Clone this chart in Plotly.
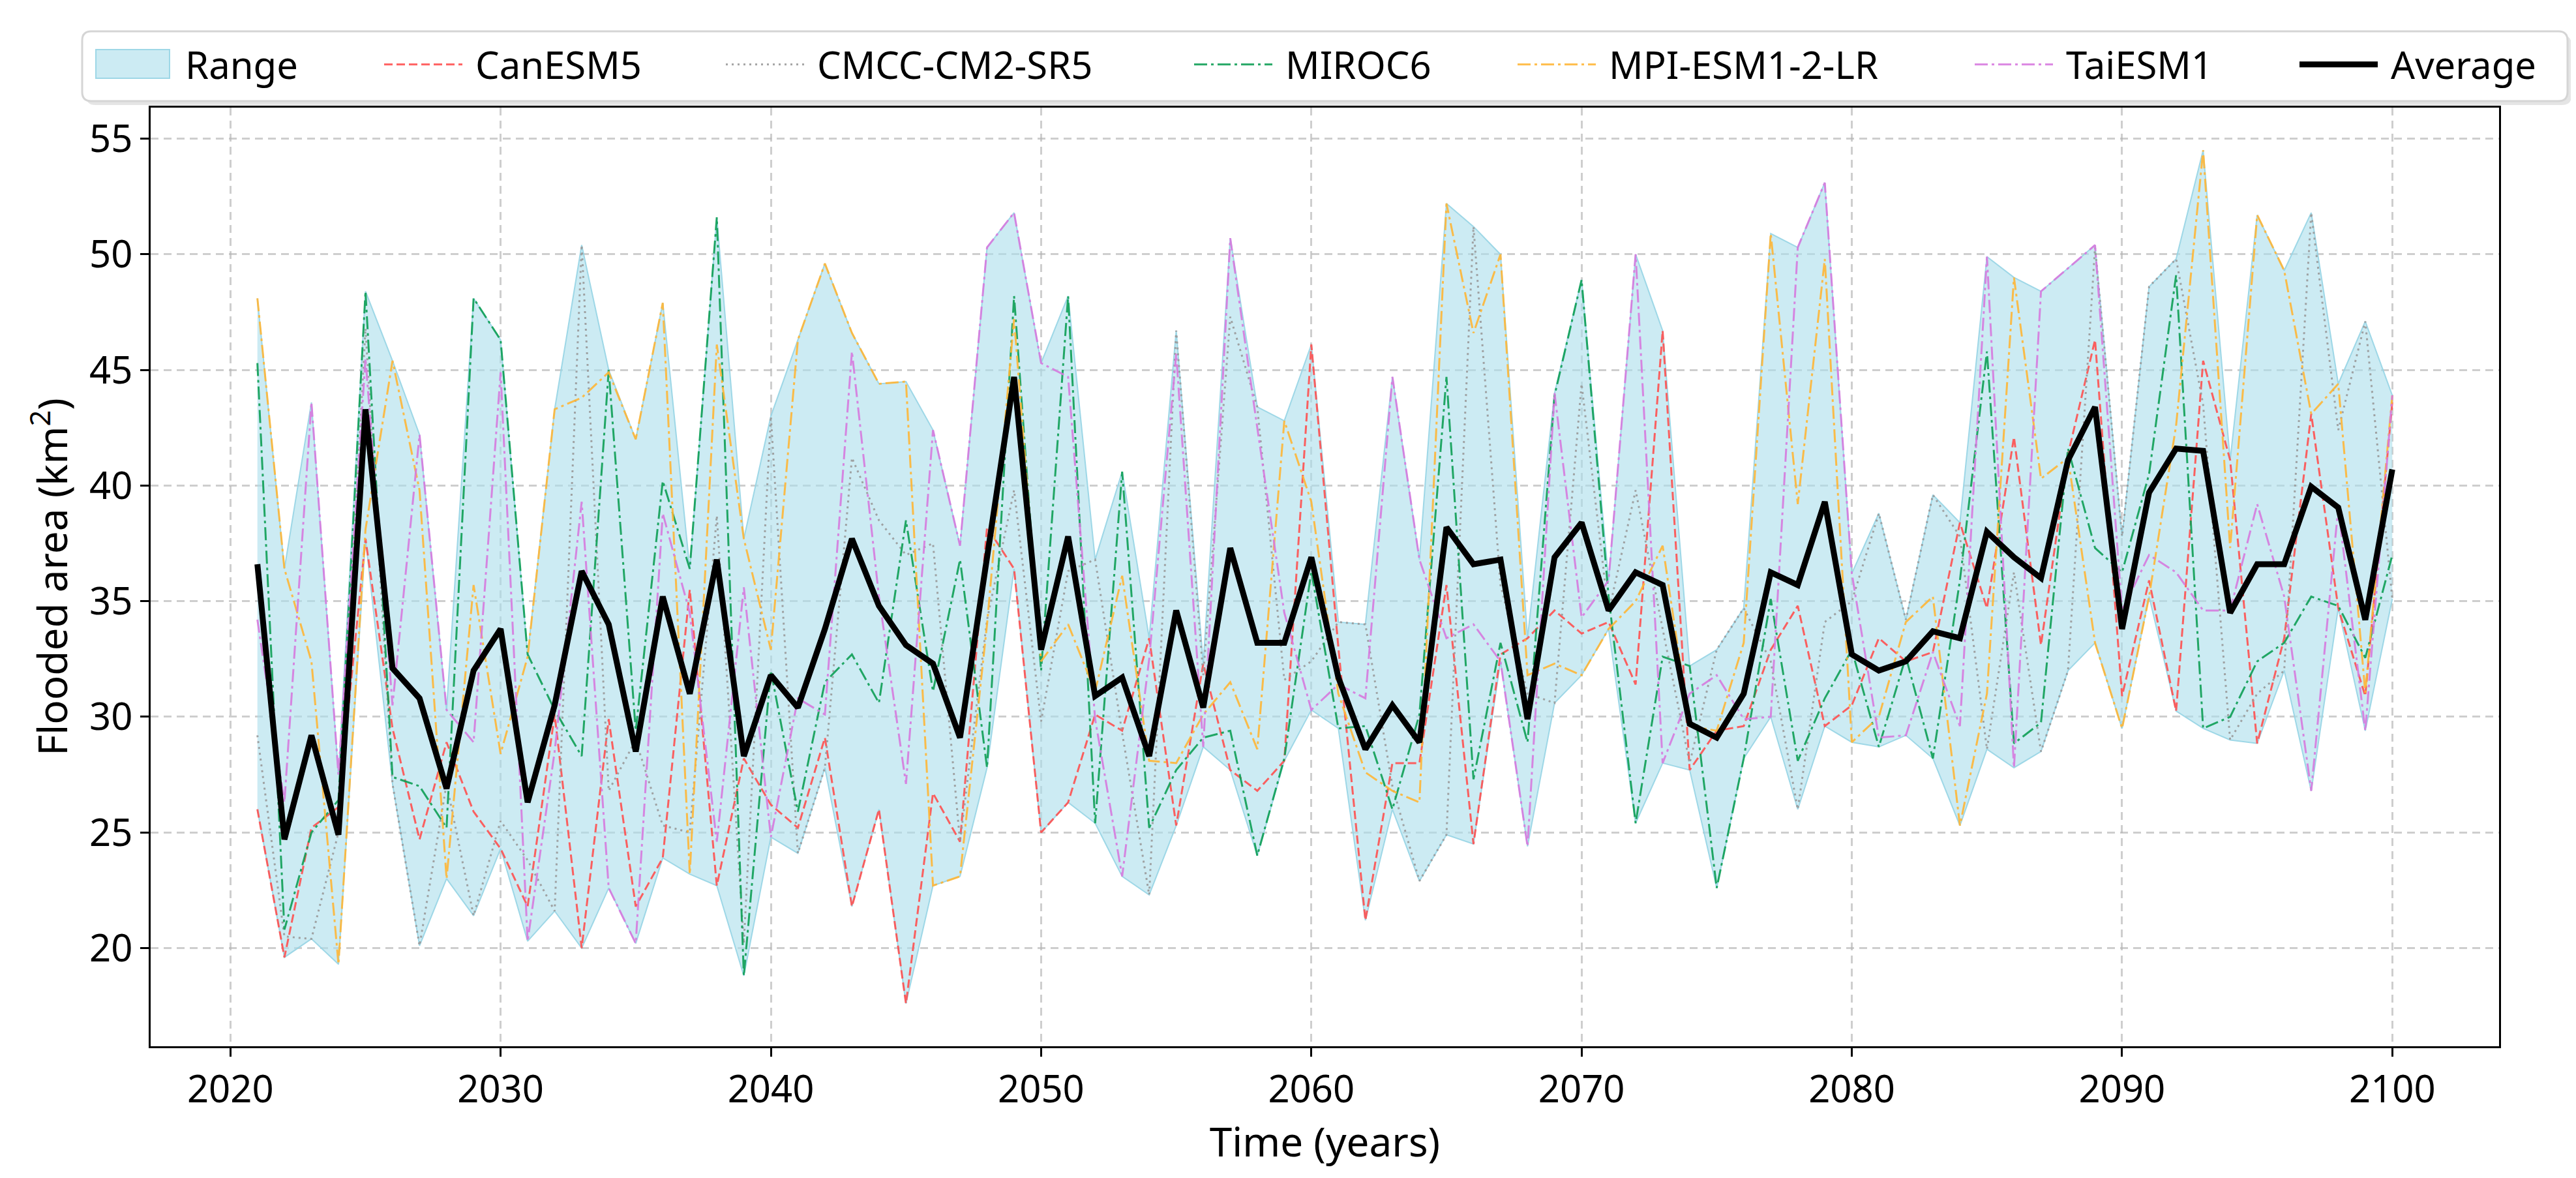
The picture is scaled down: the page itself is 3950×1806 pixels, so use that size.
import plotly.graph_objects as go

years = list(range(2021, 2101))

canesm5 = [26.0, 19.6, 25.2, 26.1, 37.7, 29.5, 24.7, 28.9, 25.9, 24.3,
           21.8, 30.1, 20.0, 29.9, 21.8, 23.9, 35.5, 22.7, 28.2, 26.2,
           25.2, 29.1, 21.8, 26.0, 17.6, 26.7, 24.6, 38.2, 36.4, 25.0,
           26.3, 30.1, 29.4, 33.4, 25.3, 32.3, 27.7, 26.8, 28.1, 46.1,
           33.0, 21.2, 28.0, 28.0, 35.7, 24.5, 32.7, 33.4, 34.6, 33.6,
           34.1, 31.4, 46.7, 27.7, 29.4, 29.6, 32.9, 34.8, 29.6, 30.5,
           33.4, 32.4, 32.8, 38.4, 34.7, 42.1, 33.1, 41.35, 46.3, 30.9,
           35.9, 30.25, 45.4, 41.1, 28.85, 33.4, 43.1, 34.7, 30.9, 43.6]

cmcc = [29.2, 20.5, 20.4, 25.0, 46.8, 27.1, 20.1, 27.1, 21.4, 25.5,
        23.8, 21.6, 50.4, 26.8, 29.0, 25.3, 25.0, 38.7, 20.2, 43.0,
        24.1, 27.8, 41.2, 38.5, 37.0, 37.5, 24.6, 34.2, 39.8, 29.8,
        36.3, 36.8, 29.3, 22.3, 46.7, 31.8, 47.3, 43.4, 31.6, 32.4,
        34.1, 34.0, 27.0, 22.9, 24.9, 51.2, 35.7, 31.0, 30.6, 44.4,
        34.5, 39.8, 33.8, 28.0, 32.9, 34.7, 32.4, 26.0, 34.1, 35.0,
        38.8, 34.2, 39.6, 37.8, 28.6, 36.25, 28.5, 32.0, 50.3, 37.8,
        48.6, 49.8, 43.5, 29.0, 31.0, 32.0, 51.8, 42.4, 47.1, 35.1]

miroc6 = [45.3, 20.8, 25.0, 26.4, 48.4, 27.4, 27.0, 25.2, 48.1, 46.3,
          32.7, 30.3, 28.3, 45.0, 29.4, 40.2, 36.4, 51.6, 18.8, 32.0,
          25.9, 31.5, 32.7, 30.6, 38.5, 31.1, 36.8, 27.8, 48.2, 32.0,
          48.2, 25.4, 40.6, 25.2, 27.7, 29.1, 29.4, 24.0, 28.2, 36.3,
          29.5, 29.6, 26.0, 30.1, 44.7, 27.3, 33.2, 28.9, 43.9, 48.9,
          35.2, 25.4, 32.6, 32.2, 22.6, 28.2, 35.1, 28.1, 30.8, 32.9,
          28.7, 32.6, 28.2, 35.9, 45.8, 28.85, 29.75, 41.6, 37.3, 36.25,
          40.5, 49.1, 29.5, 30.0, 32.4, 33.2, 35.2, 34.8, 32.55, 37.0]

mpi = [48.1, 36.4, 32.4, 19.3, 38.1, 45.4, 39.8, 23.0, 35.7, 28.4,
       32.6, 43.3, 43.8, 44.9, 42.0, 47.9, 23.2, 46.1, 37.7, 32.9,
       46.3, 49.6, 46.6, 44.4, 44.5, 22.7, 23.1, 34.0, 47.2, 32.4,
       34.0, 31.1, 36.1, 28.1, 28.0, 30.1, 31.5, 28.6, 42.8, 39.3,
       31.0, 27.6, 26.8, 26.3, 52.2, 46.6, 50.0, 31.8, 32.3, 31.8,
       33.8, 35.0, 37.4, 29.6, 29.4, 33.2, 50.9, 39.2, 49.8, 28.9,
       30.0, 34.1, 35.2, 25.3, 31.0, 49.0, 40.3, 41.2, 33.2, 29.5,
       35.2, 42.6, 54.5, 37.3, 51.7, 49.3, 43.1, 44.4, 31.05, 43.9]

taiesm1 = [34.2, 26.3, 43.6, 27.5, 45.5, 30.5, 42.2, 30.3, 28.9, 44.9,
           20.3, 28.5, 39.3, 22.6, 20.2, 38.8, 34.5, 24.6, 35.6, 24.8,
           30.8, 30.1, 45.8, 35.2, 27.1, 42.4, 37.4, 50.3, 51.8, 45.3,
           44.7, 29.9, 23.1, 32.5, 45.7, 28.7, 50.7, 42.5, 34.5, 30.3,
           31.4, 30.8, 44.7, 36.8, 33.4, 34.0, 32.4, 24.4, 44.0, 34.3,
           35.9, 50.0, 28.0, 31.0, 31.8, 29.9, 30.0, 50.3, 53.1, 36.2,
           29.1, 29.2, 32.8, 29.6, 49.9, 27.8, 48.4, 49.4, 50.4, 34.6,
           37.0, 36.25, 34.6, 34.6, 39.2, 35.2, 26.8, 39.05, 29.4, 43.9]

average = [36.6, 24.7, 29.2, 24.9, 43.3, 32.1, 30.8, 26.9, 32.0, 33.8,
           26.3, 30.5, 36.3, 34.0, 28.5, 35.2, 31.0, 36.8, 28.3, 31.8,
           30.4, 33.8, 37.7, 34.8, 33.1, 32.3, 29.1, 36.9, 44.7, 32.9,
           37.8, 30.9, 31.7, 28.3, 34.6, 30.4, 37.3, 33.2, 33.2, 36.9,
           31.7, 28.6, 30.5, 28.9, 38.2, 36.6, 36.8, 29.9, 36.9, 38.4,
           34.6, 36.25, 35.7, 29.7, 29.1, 31.0, 36.25, 35.7, 39.3, 32.7,
           32.0, 32.4, 33.7, 33.4, 38.0, 36.9, 36.0, 41.1, 43.4, 33.8,
           39.7, 41.6, 41.5, 34.5, 36.6, 36.6, 39.95, 39.05, 34.2, 40.7]

model_names = ["CanESM5", "CMCC-CM2-SR5", "MIROC6", "MPI-ESM1-2-LR", "TaiESM1"]
model_values = [canesm5, cmcc, miroc6, mpi, taiesm1]
x_ticks = [2020, 2030, 2040, 2050, 2060, 2070, 2080, 2090, 2100]
y_ticks = [20, 25, 30, 35, 40, 45, 50, 55]

range_low = [min(v) for v in zip(*model_values)]
range_high = [max(v) for v in zip(*model_values)]

# ---- styling / layout ----
W, H = 3950, 1806
ML, MR, MT, MB = 223, 126, 157, 210
PW, PH = W - ML - MR, H - MT - MB
FONT = "Noto Sans, Open Sans, DejaVu Sans, sans-serif"
FILL = "rgba(173,223,235,0.62)"
EDGE = "rgba(150,212,228,0.9)"

styles = {
    "CanESM5": dict(color="#FF5050", dash="13px,6px"),
    "CMCC-CM2-SR5": dict(color="#9A9A9A", dash="3px,6px"),
    "MIROC6": dict(color="#0E9F55", dash="20px,6px,4px,6px"),
    "MPI-ESM1-2-LR": dict(color="#FFB636", dash="20px,6px,4px,6px"),
    "TaiESM1": dict(color="#D77ADF", dash="20px,6px,4px,6px"),
}

def px2x(px):
    return (px - ML) / PW

def py2y(py):
    return 1 - (py - MT) / PH

legend_starts = [139, 584, 1108, 1826, 2322, 3023, 3521]
legend_y = py2y(91)

fig = go.Figure()

# Range band (legend entry carried by the group's label trace)
fig.add_trace(go.Scatter(x=[None], y=[None], mode="lines", name=" Range",
                         line=dict(color="rgba(0,0,0,0)", width=0),
                         legend="legend", legendgroup="range", hoverinfo="skip"))
fig.add_trace(go.Scatter(x=years, y=range_low, mode="lines",
                         line=dict(color=EDGE, width=2), legendgroup="range",
                         showlegend=False, hoverinfo="skip", legend="legend"))
fig.add_trace(go.Scatter(x=years, y=range_high, mode="lines", fill="tonexty",
                         fillcolor=FILL, line=dict(color=EDGE, width=2),
                         name="Range", legendgroup="range", showlegend=False,
                         legend="legend"))

for i, (name, vals) in enumerate(zip(model_names, model_values)):
    st = styles[name]
    fig.add_trace(go.Scatter(x=years, y=vals, mode="lines", name=" " + name,
                             line=dict(color=st["color"], width=3, dash=st["dash"]),
                             opacity=0.9, legend="legend%d" % (i + 2)))

fig.add_trace(go.Scatter(x=years, y=average, mode="lines", name=" Average",
                         line=dict(color="black", width=9),
                         legend="legend7"))

allv = [v for s in model_values for v in s]
vmin, vmax = min(allv), max(allv)
pad = 0.05 * (vmax - vmin)
xpad = 0.05 * (years[-1] - years[0])

axis_common = dict(
    showline=True, linecolor="black", linewidth=3, mirror=True,
    ticks="outside", ticklen=13, tickwidth=3, tickcolor="black",
    showgrid=True, gridcolor="rgba(180,180,180,0.65)", gridwidth=2.5,
    griddash="12px,8px", zeroline=False,
    tickfont=dict(family=FONT, size=58, color="black"),
)

fig.update_xaxes(range=[years[0] - xpad, years[-1] + xpad], tickvals=x_ticks,
                 title=dict(text="Time (years)", font=dict(family=FONT, size=62, color="black"),
                            standoff=22),
                 **axis_common)
fig.update_yaxes(range=[vmin - pad, vmax + pad], tickvals=y_ticks,
                 title=dict(text="Flooded area (km<sup>2</sup>)",
                            font=dict(family=FONT, size=62, color="black"), standoff=14),
                 **axis_common)

leg_font = dict(family=FONT, size=58, color="black")
layout_leg = {}
for i, sx in enumerate(legend_starts):
    key = "legend" if i == 0 else "legend%d" % (i + 1)
    layout_leg[key] = dict(x=px2x(sx - 8), y=legend_y, xanchor="left", yanchor="middle",
                           xref="paper", yref="paper",
                           orientation="h", bgcolor="rgba(0,0,0,0)", borderwidth=0,
                           font=leg_font, itemwidth=120)

def rounded_path(x0, y0, x1, y1, r):
    X = lambda p: px2x(p)
    Y = lambda p: py2y(p)
    return (f"M {X(x0 + r)},{Y(y0)} L {X(x1 - r)},{Y(y0)} "
            f"Q {X(x1)},{Y(y0)} {X(x1)},{Y(y0 + r)} L {X(x1)},{Y(y1 - r)} "
            f"Q {X(x1)},{Y(y1)} {X(x1 - r)},{Y(y1)} L {X(x0 + r)},{Y(y1)} "
            f"Q {X(x0)},{Y(y1)} {X(x0)},{Y(y1 - r)} L {X(x0)},{Y(y0 + r)} "
            f"Q {X(x0)},{Y(y0)} {X(x0 + r)},{Y(y0)} Z")

shapes = [
    dict(type="path", xref="paper", yref="paper", path=rounded_path(124, 46, 3935, 153, 14),
         fillcolor="rgba(0,0,0,0.10)", line=dict(width=0), layer="below"),
    dict(type="path", xref="paper", yref="paper", path=rounded_path(118, 40, 3929, 147, 14),
         fillcolor="white", line=dict(color="#D5D5D5", width=3), layer="below"),
    # legend patch for the Range band
    dict(type="rect", xref="paper", yref="paper",
         x0=px2x(139), x1=px2x(252), y0=py2y(112), y1=py2y(68),
         fillcolor=FILL, line=dict(color=EDGE, width=2), layer="above"),
]

fig.update_layout(
    width=W, height=H,
    margin=dict(l=ML, r=MR, t=MT, b=MB, pad=0),
    plot_bgcolor="white", paper_bgcolor="white",
    font=dict(family=FONT, color="black"),
    shapes=shapes,
    showlegend=True,
    **layout_leg,
)

fig.write_html("out.html")
